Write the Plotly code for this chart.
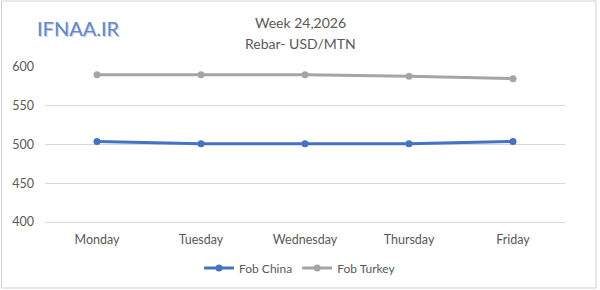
import plotly.graph_objects as go

days = ["Monday", "Tuesday", "Wednesday", "Thursday", "Friday"]
fob_china = [504, 501, 501, 501, 504]
fob_turkey = [590, 590, 590, 588, 585]
y_ticks = [400, 450, 500, 550, 600]

FONT = "Lato"
TXT = "#595959"

fig = go.Figure()
fig.add_trace(go.Scatter(x=days, y=fob_china, name="Fob China", mode="lines+markers",
                         line=dict(color="#4472C4", width=3), marker=dict(size=7, color="#4472C4")))
fig.add_trace(go.Scatter(x=days, y=fob_turkey, name="Fob Turkey", mode="lines+markers",
                         line=dict(color="#A5A5A5", width=3), marker=dict(size=7, color="#A5A5A5")))

L, R, T, B = 45, 35, 67, 68
W, H = 600, 290
pw, ph = W - L - R, H - T - B

def px(x):
    return (x - L) / pw

def py(y):
    return (H - B - y) / ph

fig.update_layout(
    width=W, height=H,
    margin=dict(l=L, r=R, t=T, b=B, autoexpand=False),
    paper_bgcolor="white", plot_bgcolor="white",
    font=dict(family=FONT, size=12, color=TXT),
    showlegend=True,
    legend=dict(orientation="h", x=0.5, xanchor="center", xref="container",
                y=1 - 268 / H, yanchor="middle", yref="container",
                font=dict(size=12, color=TXT), itemwidth=30),
    xaxis=dict(showgrid=False, showline=True, linecolor="#D9D9D9", linewidth=1, ticks="",
               tickfont=dict(size=12.5, color=TXT), range=[-0.5, 4.5], ticklabelstandoff=6),
    yaxis=dict(range=[400, 600], tickvals=y_ticks, showgrid=True, gridcolor="#D9D9D9",
               gridwidth=1, zeroline=False, showline=False, ticks="",
               tickfont=dict(size=12.5, color=TXT), ticklabelstandoff=10),
    annotations=[
        dict(text="Week 24,2026", x=px(300), y=py(22), xref="paper", yref="paper",
             showarrow=False, font=dict(size=14, color=TXT), xanchor="center", yanchor="middle"),
        dict(text="Rebar- USD/MTN", x=px(300), y=py(44), xref="paper", yref="paper",
             showarrow=False, font=dict(size=14, color=TXT), xanchor="center", yanchor="middle"),
        dict(text="IFNAA.IR", x=px(36), y=py(29), xref="paper", yref="paper",
             showarrow=False, font=dict(size=20, color="#C9CFDA"), xanchor="left", yanchor="middle"),
        dict(text="IFNAA.IR", x=px(35), y=py(28), xref="paper", yref="paper",
             showarrow=False, font=dict(size=20, color="#6488CC"), xanchor="left", yanchor="middle"),
    ],
    shapes=[
        dict(type="rect", xref="paper", yref="paper", x0=px(1.5), x1=px(596), y0=py(288), y1=py(1),
             line=dict(color="#D0D0D0", width=1), fillcolor="rgba(0,0,0,0)", layer="below"),
    ],
)

fig.write_html("out.html")
